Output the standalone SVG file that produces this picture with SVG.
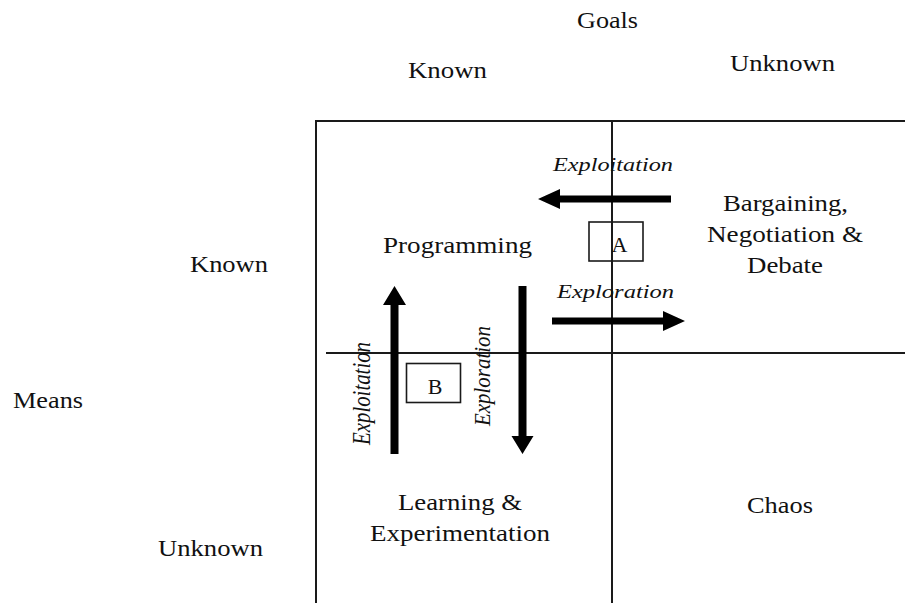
<svg xmlns="http://www.w3.org/2000/svg" width="905" height="603" viewBox="0 0 905 603">
<style>
text{font-family:"Liberation Serif","Times New Roman",serif;fill:#111;}
.t{font-size:24px;}
.i{font-size:19px;font-style:italic;}
.ir{font-size:21px;font-style:italic;}
.ln{stroke:#1a1a1a;stroke-width:2;fill:none;}
.box{stroke:#1a1a1a;stroke-width:1.6;fill:none;}
.arr{fill:#000;}
</style>
<rect width="905" height="603" fill="#fff"/>
<g id="grid">
<line class="ln" x1="316" y1="121" x2="905" y2="121"/>
<line class="ln" x1="316" y1="120" x2="316" y2="603"/>
<line class="ln" x1="612" y1="120" x2="612" y2="603"/>
<line class="ln" x1="326" y1="353" x2="905" y2="353"/>
</g>
<g id="axis-labels">
<text class="t" x="577" y="28" textLength="61" lengthAdjust="spacingAndGlyphs">Goals</text>
<text class="t" x="408" y="78" textLength="79" lengthAdjust="spacingAndGlyphs">Known</text>
<text class="t" x="730" y="71" textLength="105" lengthAdjust="spacingAndGlyphs">Unknown</text>
<text class="t" x="190" y="272" textLength="78" lengthAdjust="spacingAndGlyphs">Known</text>
<text class="t" x="13" y="408" textLength="70" lengthAdjust="spacingAndGlyphs">Means</text>
<text class="t" x="158" y="556" textLength="105" lengthAdjust="spacingAndGlyphs">Unknown</text>
</g>
<g id="programming">
<text class="t" x="383" y="253" textLength="149" lengthAdjust="spacingAndGlyphs">Programming</text>
</g>
<g id="bargaining">
<text class="t" x="723" y="211" textLength="125" lengthAdjust="spacingAndGlyphs">Bargaining,</text>
<text class="t" x="707" y="242" textLength="156" lengthAdjust="spacingAndGlyphs">Negotiation &amp;</text>
<text class="t" x="747" y="273" textLength="76" lengthAdjust="spacingAndGlyphs">Debate</text>
</g>
<g id="learning">
<text class="t" x="398" y="510" textLength="124" lengthAdjust="spacingAndGlyphs">Learning &amp;</text>
<text class="t" x="370" y="541" textLength="180" lengthAdjust="spacingAndGlyphs">Experimentation</text>
</g>
<g id="chaos">
<text class="t" x="747" y="513" textLength="66" lengthAdjust="spacingAndGlyphs">Chaos</text>
</g>
<g id="box-a">
<rect class="box" x="589" y="222" width="54" height="39"/>
<text class="t" x="619.5" y="252" text-anchor="middle" style="font-size:22px">A</text>
</g>
<g id="box-b">
<rect class="box" x="406.5" y="363.5" width="54" height="39"/>
<text class="t" x="435" y="394" text-anchor="middle" style="font-size:22px">B</text>
</g>
<g id="connectors">
<polygon class="arr" points="671,195.5 560,195.5 560,189 538,199 560,209 560,202.5 671,202.5"/>
<polygon class="arr" points="552,317.5 663,317.5 663,311 685,321 663,331 663,324.5 552,324.5"/>
<polygon class="arr" points="390.5,454 390.5,305 383,305 394.5,286 406,305 398.5,305 398.5,454"/>
<polygon class="arr" points="518.5,286 518.5,436 511.5,436 522.5,454 533.5,436 526.5,436 526.5,286"/>
<text class="i" x="553" y="171" textLength="120" lengthAdjust="spacingAndGlyphs">Exploitation</text>
<text class="i" x="557" y="298" textLength="117" lengthAdjust="spacingAndGlyphs">Exploration</text>
<text class="ir" transform="translate(370,445) rotate(-90) scale(1,1.15)" textLength="103" lengthAdjust="spacingAndGlyphs">Exploitation</text>
<text class="ir" transform="translate(490,426) rotate(-90) scale(1,1.1)" textLength="100" lengthAdjust="spacingAndGlyphs">Exploration</text>
</g>
</svg>
